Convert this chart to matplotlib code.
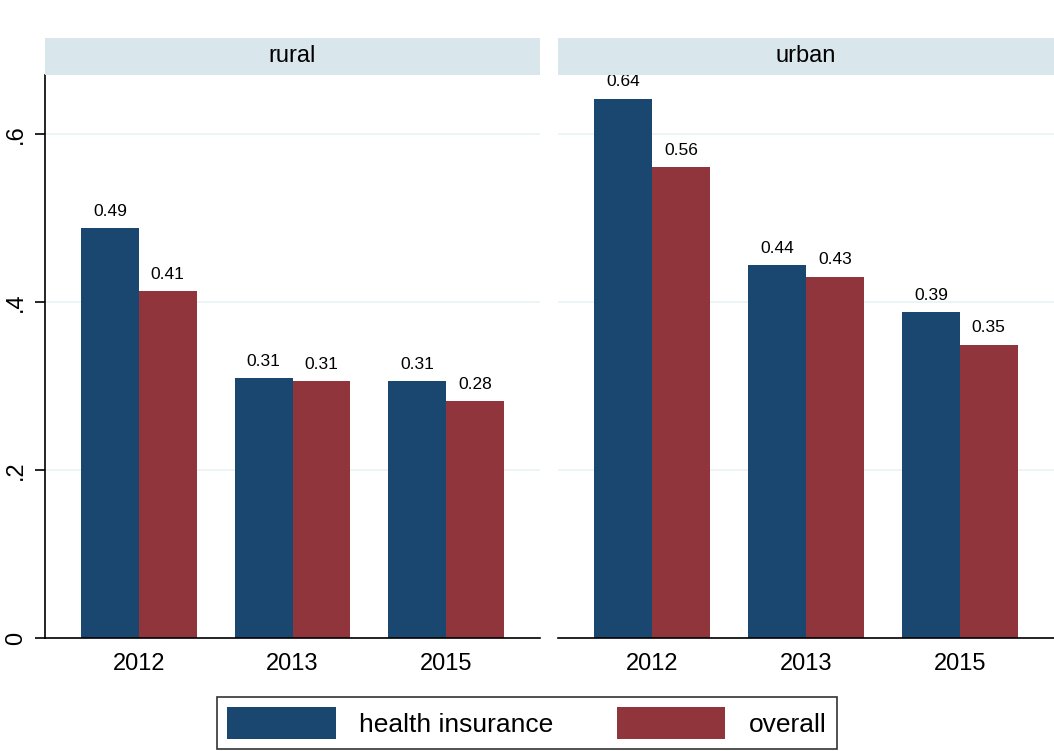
import matplotlib.pyplot as plt
import numpy as np

plt.rcParams['font.family'] = ['Liberation Sans', 'DejaVu Sans']

# Datos
years = ['2012', '2013', '2015']
panels = ['rural', 'urban']
health_insurance = {'rural': [0.488, 0.309, 0.306], 'urban': [0.642, 0.444, 0.388]}
overall = {'rural': [0.413, 0.306, 0.282], 'urban': [0.560, 0.430, 0.349]}
yticks = [0, 0.2, 0.4, 0.6]
yticklabels = ['0', '.2', '.4', '.6']

blue = '#1a476f'
red = '#90353b'
strip_color = '#d9e6eb'
grid_color = '#eaf2f3'

W, H = 1054, 751
fig = plt.figure(figsize=(W / 100, H / 100), dpi=100)

def px(x0, y0, x1, y1):
    return [x0 / W, 1 - y1 / H, (x1 - x0) / W, (y1 - y0) / H]

boxes = {'rural': (45, 540), 'urban': (558, 1054)}
x = np.arange(len(years))
bw = 0.375
bars = []
for i, name in enumerate(panels):
    x0, x1 = boxes[name]
    ax = fig.add_axes(px(x0, 75, x1, 638))
    b1 = ax.bar(x - bw / 2, health_insurance[name], bw, color=blue, label='health insurance', zorder=2)
    b2 = ax.bar(x + bw / 2, overall[name], bw, color=red, label='overall', zorder=2)
    bars = [b1, b2]
    for xs, vals in [(x - bw / 2, health_insurance[name]), (x + bw / 2, overall[name])]:
        for xv, v in zip(xs, vals):
            ax.text(xv, v + 0.011, f'{v:.2f}', ha='center', va='bottom', fontsize=12.5, clip_on=False)
    ax.set_xlim(-0.612, 2.612)
    ax.set_ylim(0, 0.670)
    ax.set_yticks(yticks)
    ax.grid(axis='y', color=grid_color, linewidth=1.2, zorder=0)
    ax.set_axisbelow(True)
    ax.set_xticks(x)
    ax.set_xticklabels(years, fontsize=17)
    ax.tick_params(axis='x', length=0, pad=11)
    for s in ['top', 'right']:
        ax.spines[s].set_visible(False)
    ax.spines['bottom'].set_linewidth(1.2)
    if i == 0:
        ax.set_yticklabels(yticklabels, fontsize=17, rotation=90, va='center')
        ax.tick_params(axis='y', length=7, width=1.2, pad=6)
        ax.spines['left'].set_linewidth(1.2)
    else:
        ax.spines['left'].set_visible(False)
        ax.tick_params(axis='y', length=0, labelleft=False)

    # Franja con el título del panel
    sax = fig.add_axes(px(x0, 38, x1, 75), zorder=5)
    sax.set_facecolor(strip_color)
    sax.set_xticks([])
    sax.set_yticks([])
    for s in sax.spines.values():
        s.set_visible(False)
    sax.text(0.5, 0.5, name, ha='center', va='center', fontsize=17, transform=sax.transAxes)

leg = fig.legend(bars, ['health insurance', 'overall'], loc='center',
                 bbox_to_anchor=(527 / W, 1 - 723 / H), ncol=2, fontsize=19,
                 frameon=True, fancybox=False, edgecolor='black',
                 handlelength=4.1, handleheight=1.45, columnspacing=2.4,
                 handletextpad=0.9, borderpad=0.4)
leg.get_frame().set_linewidth(1.2)

fig.savefig('out.png', dpi=100)
